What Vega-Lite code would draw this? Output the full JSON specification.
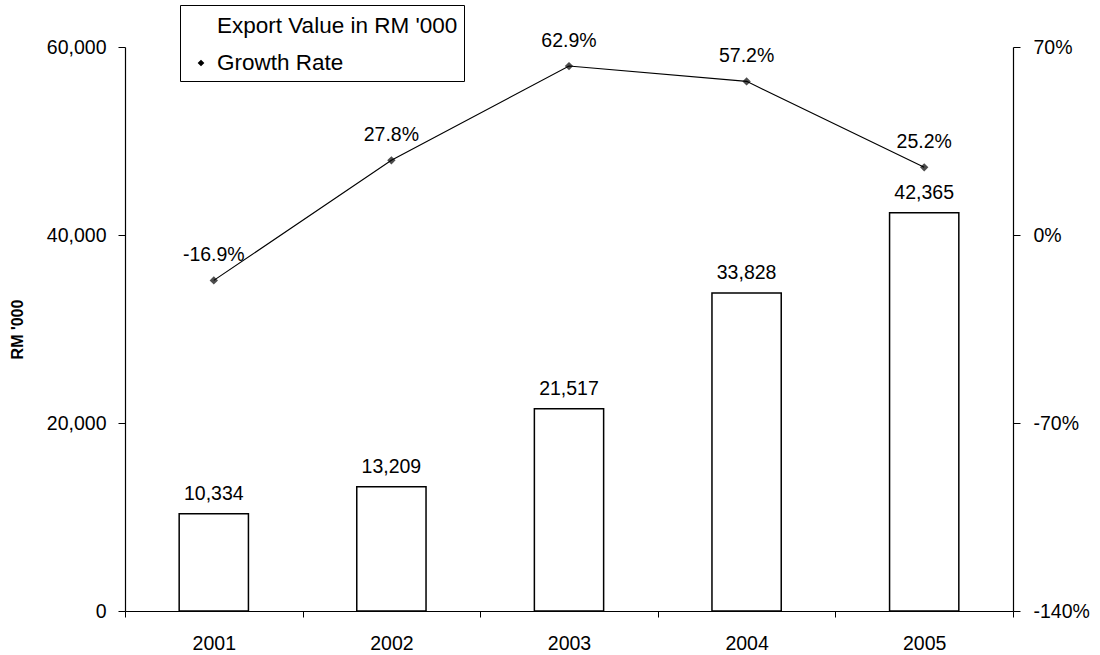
{
  "$schema": "https://vega.github.io/schema/vega-lite/v6.json",
  "autosize": {"type": "none"},
  "padding": {"left": 125, "top": 47, "right": 87, "bottom": 44},
  "width": 888,
  "height": 564,
  "background": "white",
  "config": {
    "view": {"stroke": null},
    "font": "Liberation Sans",
    "locale": {"number": {"decimal": ".", "thousands": ",", "grouping": [3], "currency": ["$", ""], "minus": "-"}},
    "axis": {"labelFont": "Liberation Sans", "labelFontSize": 19.5, "labelColor": "black", "domainColor": "black", "tickColor": "black", "grid": false},
    "legend": {
      "orient": "none", "legendX": 55, "legendY": -42,
      "strokeColor": "black", "padding": 6, "cornerRadius": 0,
      "labelFont": "Liberation Sans", "labelFontSize": 22.5, "labelColor": "black", "labelLimit": 500,
      "symbolSize": 784, "rowPadding": 10, "labelOffset": 1, "symbolStrokeWidth": 1.3, "symbolOpacity": 1,
      "symbolStrokeColor": "black"
    }
  },
  "data": {
    "values": [
      {"year": "2001", "export": 10334, "growth": -0.169},
      {"year": "2002", "export": 13209, "growth": 0.278},
      {"year": "2003", "export": 21517, "growth": 0.629},
      {"year": "2004", "export": 33828, "growth": 0.572},
      {"year": "2005", "export": 42365, "growth": 0.252}
    ]
  },
  "encoding": {
    "x": {
      "field": "year", "type": "nominal", "sort": null,
      "scale": {"paddingInner": 0, "paddingOuter": 0},
      "axis": {"title": null, "labelAngle": 0, "tickBand": "extent", "tickSize": 6, "labelPadding": 17, "domainWidth": 1.2}
    }
  },
  "layer": [
    {
      "encoding": {
        "y": {
          "field": "export", "type": "quantitative",
          "scale": {"domain": [0, 60000], "nice": false},
          "axis": {"title": "RM '000", "titleFont": "Liberation Sans", "titleFontSize": 16, "titleFontWeight": "bold", "titleColor": "black", "titlePadding": 21, "values": [0, 20000, 40000, 60000], "format": ",d", "tickSize": 7, "labelPadding": 12, "domainWidth": 1.2}
        }
      },
      "layer": [
        {
          "mark": {"type": "bar", "width": {"band": 0.39}, "fill": "white", "stroke": "black", "strokeWidth": 1.5},
          "encoding": {}
        },
        {
          "mark": {"type": "text", "font": "Liberation Sans", "fontSize": 19.5, "color": "black", "dy": -20, "baseline": "middle"},
          "encoding": {"text": {"field": "export", "type": "quantitative", "format": ","}}
        }
      ]
    },
    {
      "encoding": {
        "y": {
          "field": "growth", "type": "quantitative",
          "scale": {"domain": [-1.4, 0.7], "nice": false, "zero": false},
          "axis": {"orient": "right", "title": null, "values": [-1.4, -0.7, 0, 0.7], "format": ".0%", "tickSize": 7, "labelPadding": 13, "domainWidth": 1.2}
        }
      },
      "layer": [
        {
          "mark": {"type": "line", "color": "black", "strokeWidth": 1.1},
          "encoding": {}
        },
        {
          "mark": {"type": "point", "shape": "diamond", "filled": true, "color": "black", "size": 70},
          "encoding": {}
        },
        {
          "mark": {"type": "point", "opacity": 0, "strokeWidth": 1.3, "filled": false, "color": "black", "size": 784},
          "encoding": {
            "shape": {"datum": "Growth Rate", "type": "nominal",
              "scale": {"domain": ["Export Value in RM '000", "Growth Rate"], "range": ["M-0.95,-0.42H0.95V0.42H-0.95Z", "M-1,0H1M0,-0.24L0.24,0L0,0.24L-0.24,0Z"]},
              "legend": {"title": null, "symbolStrokeColor": "black", "symbolStrokeWidth": 1.3, "symbolOpacity": 1, "symbolSize": 784}},
            "fill": {"datum": "Growth Rate", "type": "nominal",
              "scale": {"domain": ["Export Value in RM '000", "Growth Rate"], "range": ["white", "black"]},
              "legend": {"title": null, "symbolStrokeColor": "black", "symbolStrokeWidth": 1.3, "symbolOpacity": 1, "symbolSize": 784}}
          }
        },
        {
          "mark": {"type": "text", "font": "Liberation Sans", "fontSize": 19.5, "color": "black", "dy": -25, "baseline": "middle"},
          "encoding": {"text": {"field": "growth", "type": "quantitative", "format": ".1%"}}
        }
      ]
    }
  ],
  "resolve": {"scale": {"y": "independent"}}
}
